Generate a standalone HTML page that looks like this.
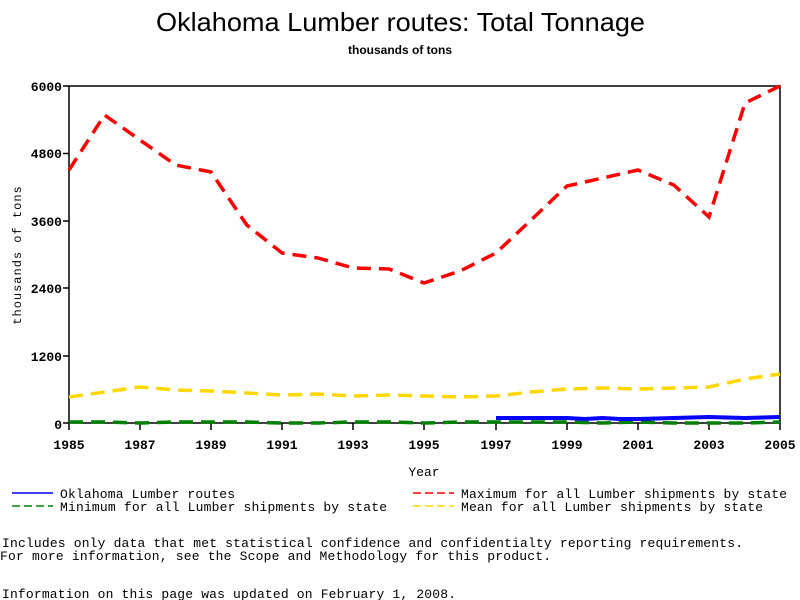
<!DOCTYPE html>
<html><head><meta charset="utf-8"><style>body{margin:0;background:#fff}svg{display:block}</style></head>
<body>
<svg width="800" height="600" xmlns="http://www.w3.org/2000/svg" font-family="Liberation Sans, sans-serif">
<rect width="800" height="600" fill="#fff"/>
<text x="156" y="31" font-size="26" textLength="489" lengthAdjust="spacingAndGlyphs">Oklahoma Lumber routes: Total Tonnage</text>
<text x="400" y="54" font-size="12" font-weight="bold" text-anchor="middle">thousands of tons</text>
<rect x="69" y="86" width="711" height="337" fill="none" stroke="#000" stroke-width="1.5"/>
<g font-family="Liberation Mono, monospace" font-size="13" font-weight="bold" text-anchor="end">
<text x="62" y="91">6000</text><text x="62" y="158">4800</text><text x="62" y="226">3600</text><text x="62" y="293">2400</text><text x="62" y="361">1200</text><text x="62" y="429">0</text>
</g>
<g stroke="#000" stroke-width="1.5">
<line x1="63" y1="86" x2="69" y2="86"/><line x1="63" y1="153.5" x2="69" y2="153.5"/><line x1="63" y1="221" x2="69" y2="221"/><line x1="63" y1="288" x2="69" y2="288"/><line x1="63" y1="356" x2="69" y2="356"/><line x1="63" y1="423" x2="69" y2="423"/>
<line x1="69" y1="423" x2="69" y2="430"/><line x1="140" y1="423" x2="140" y2="430"/><line x1="211" y1="423" x2="211" y2="430"/><line x1="282" y1="423" x2="282" y2="430"/><line x1="353" y1="423" x2="353" y2="430"/><line x1="424" y1="423" x2="424" y2="430"/><line x1="496" y1="423" x2="496" y2="430"/><line x1="567" y1="423" x2="567" y2="430"/><line x1="638" y1="423" x2="638" y2="430"/><line x1="709" y1="423" x2="709" y2="430"/><line x1="780" y1="423" x2="780" y2="430"/>
</g>
<g font-family="Liberation Mono, monospace" font-size="13" font-weight="bold" text-anchor="middle">
<text x="69" y="449">1985</text><text x="140" y="449">1987</text><text x="211" y="449">1989</text><text x="282" y="449">1991</text><text x="353" y="449">1993</text><text x="424" y="449">1995</text><text x="496" y="449">1997</text><text x="567" y="449">1999</text><text x="638" y="449">2001</text><text x="709" y="449">2003</text><text x="780" y="449">2005</text>
<text x="424" y="476" font-weight="normal">Year</text>
</g>
<text transform="translate(21,255) rotate(-90)" font-family="Liberation Mono, monospace" font-size="12" text-anchor="middle" letter-spacing="1">thousands of tons</text>
<g fill="none" stroke-width="3.5" stroke-dasharray="14,8">
<polyline stroke="#ffd700" points="69,397 104.5,392 140,387 175.6,390 211,391 246.8,393 282,395 317.9,394 353,396 389,395 424,396 460,397 496,396 531,392 567,389 602.6,388 638,389 673.8,388 709,387 745,379 780,374"/>
<polyline stroke="#008000" points="69,422 104.5,422 140,423 175.6,422 211,422 246.8,422 282,423 317.9,423 353,422 389,422 424,423 460,422 496,422 531,422 567,422 602.6,423 638,422 673.8,423 709,423 745,423 780,422"/>
<polyline stroke="#ff0000" points="69,170 104.5,115 140,140 175.6,165 211,172 246.8,225 282,253 317.9,258 353,268 389,269 424,283 460,271 496,253 531,220 567,186 602.6,178 638,170 673.8,185 709,217 745,103 780,86"/>
</g>
<polyline fill="none" stroke="#0000ff" stroke-width="4" points="496,418 531,418 567,418 585,419 602.6,418 620,419 638,419 673.8,418 709,417 745,418 780,417"/>
<g font-family="Liberation Mono, monospace" font-size="13" lengthAdjust="spacingAndGlyphs">
<line x1="12" y1="493" x2="53" y2="493" stroke="#0000ff" stroke-width="1.5"/>
<text x="60" y="498" textLength="175">Oklahoma Lumber routes</text>
<line x1="12" y1="506" x2="53" y2="506" stroke="#008000" stroke-width="1.5" stroke-dasharray="8,4"/>
<text x="60" y="511" textLength="327">Minimum for all Lumber shipments by state</text>
<line x1="413" y1="493" x2="454" y2="493" stroke="#ff0000" stroke-width="1.5" stroke-dasharray="8,4"/>
<text x="461" y="498" textLength="326">Maximum for all Lumber shipments by state</text>
<line x1="413" y1="506" x2="454" y2="506" stroke="#ffd700" stroke-width="1.5" stroke-dasharray="8,4"/>
<text x="461" y="511" textLength="302">Mean for all Lumber shipments by state</text>
<text x="2" y="547" textLength="741">Includes only data that met statistical confidence and confidentialty reporting requirements.</text>
<text x="0" y="560" textLength="551">For more information, see the Scope and Methodology for this product.</text>
<text x="2" y="598" textLength="454">Information on this page was updated on February 1, 2008.</text>
</g>
</svg>
</body></html>
